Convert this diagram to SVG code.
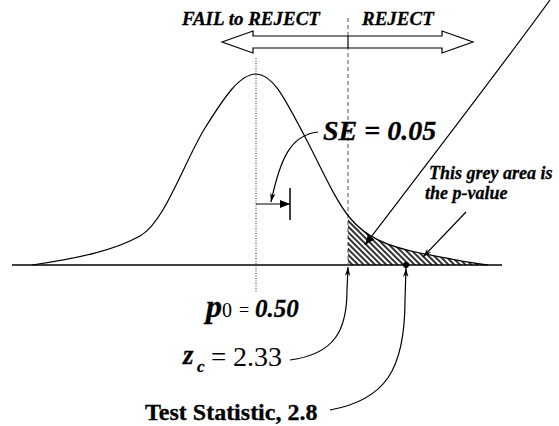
<svg xmlns="http://www.w3.org/2000/svg" width="559" height="426" viewBox="0 0 559 426">
<style>
.ln{fill:none;stroke:#000;stroke-width:1.2}
.bi{font-family:"Liberation Serif","Times New Roman",serif;font-weight:bold;font-style:italic;fill:#000;stroke:#000;stroke-width:0.3}
.b{font-family:"Liberation Serif","Times New Roman",serif;font-weight:bold;fill:#000;stroke:#000;stroke-width:0.3}
.r{font-family:"Liberation Serif","Times New Roman",serif;fill:#000}
</style>
<defs>
<pattern id="hatch" patternUnits="userSpaceOnUse" width="4" height="4" patternTransform="rotate(45)">
<line x1="0" y1="2" x2="4" y2="2" stroke="#000" stroke-width="1.6"/>
</pattern>
<marker id="fillArrow" viewBox="0 0 10 10" refX="10" refY="5" markerWidth="10" markerHeight="10" markerUnits="userSpaceOnUse" orient="auto">
<path d="M0,1 L10,5 L0,9 Z" fill="#000"/>
</marker>
<marker id="openArrow" viewBox="0 0 10 10" refX="10" refY="5" markerWidth="9" markerHeight="9" markerUnits="userSpaceOnUse" orient="auto">
<path d="M0,2 L10,5 L0,8 L3,5 Z" fill="#000"/>
</marker>
</defs>

<g id="axis">
<line x1="12" y1="265" x2="502" y2="265" stroke="#000" stroke-width="1.5"/>
<line x1="348" y1="18" x2="348" y2="265" stroke="#555" stroke-width="1" stroke-dasharray="4 3"/>
<line x1="256" y1="58" x2="256" y2="293" stroke="#333" stroke-width="1" stroke-dasharray="1 1.5"/>
</g>

<g id="tail-area">
<path d="M348,265 L348,216 L350,218 C365,236 385,246 420,253 C455,260 470,263 488,265 Z" fill="url(#hatch)" stroke="none"/>
</g>

<g id="bell-curve">
<path class="ln" d="M32,265 C80,258 115,250 140,236 S185,160 205,128 S240,74 256,74 S283,95 303,133 S335,200 350,218 S385,246 420,253 S470,263 488,265"/>
</g>

<g id="decision-arrow">
<polygon points="222,42 253,31 253,36 442,36 442,31 473,42 442,53 442,48 253,48 253,53" fill="#fff" stroke="#000" stroke-width="1.2"/>
<line x1="348" y1="36" x2="348" y2="48" stroke="#000" stroke-width="1.2"/>
<text class="bi" x="182" y="25" font-size="19">FAIL to REJECT</text>
<text class="bi" x="362" y="25" font-size="19">REJECT</text>
</g>

<g id="se-bracket">
<line x1="256" y1="204" x2="290" y2="204" stroke="#000" stroke-width="1.2" marker-end="url(#fillArrow)"/>
<line x1="290" y1="188" x2="290" y2="220" stroke="#000" stroke-width="1.5"/>
</g>

<g id="se-label">
<text class="bi" x="323" y="140" font-size="28">SE = 0.05</text>
</g>

<g id="pvalue-label">
<text class="bi" x="429" y="179" font-size="18">This grey area is</text>
<text class="bi" x="425" y="199" font-size="18">the p-value</text>
</g>

<g id="p0-label">
<text class="bi" x="206" y="317" font-size="32">p</text>
<text class="r" x="222" y="317" font-size="20">0</text>
<text class="r" x="239" y="316" font-size="18">=</text>
<text class="bi" x="255" y="317" font-size="25">0.50</text>
</g>

<g id="zc-label">
<text class="bi" x="183" y="364" font-size="27">z</text>
<text class="bi" x="197" y="372" font-size="17">c</text>
<text class="r" x="211" y="366" font-size="27">=</text>
<text class="r" x="233" y="366" font-size="28">2.33</text>
</g>

<g id="test-stat-label">
<text class="b" x="145" y="420" font-size="24">Test Statistic, 2.8</text>
</g>

<g id="connectors">
<path class="ln" d="M550,0 Q505,62 365,245" marker-end="url(#fillArrow)"/>
<path class="ln" d="M466,212 L423,257" marker-end="url(#openArrow)"/>
<path class="ln" d="M318,132 C290,135 280,160 271,202" marker-end="url(#openArrow)"/>
<path class="ln" d="M290,360 C335,354 347,330 347,290 L348,267" marker-end="url(#openArrow)"/>
<path class="ln" d="M330,410 C385,400 405,370 405,300 L406,268" marker-end="url(#openArrow)"/>
<circle cx="406" cy="265" r="3" fill="#000"/>
</g>
</svg>
